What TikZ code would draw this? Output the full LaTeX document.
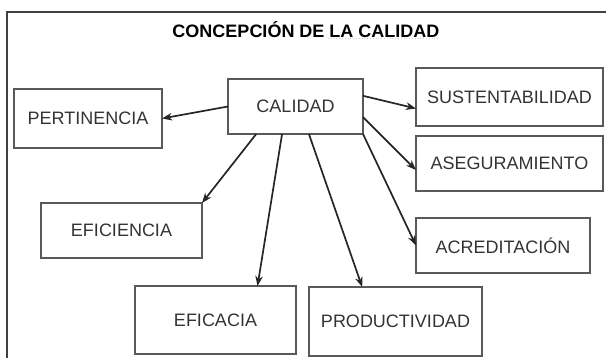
\documentclass[tikz,border=0pt]{standalone}
\usepackage{fontspec}
\setmainfont{Liberation Sans}
\usetikzlibrary{arrows.meta}
\begin{document}
\begin{tikzpicture}[x=1pt,y=-1pt,>={Stealth[length=10pt,width=7.5pt,inset=3pt]},
    concepto/.style={draw=black!65,line width=1.4pt,inner sep=0pt,outer sep=0pt,
      text=black!80,font=\fontsize{18}{20}\selectfont},
    enlace/.style={->,line width=1.7pt,black!85}]
  \useasboundingbox (0,0) rectangle (606,358);
  % marco
  \draw[line width=1.6pt,black!75] (7,358) -- (7,12) -- (606,12);
  % titulo
  \node[font=\fontsize{18}{20}\selectfont\bfseries] (titulo) at (306,30) {CONCEPCIÓN DE LA CALIDAD};
  \draw[black!20,dotted,line width=0.8pt] (328,38.5) -- (439,38.5);
  % conceptos
  \node[concepto,minimum width=135,minimum height=55] (cal) at (295.5,106.5) {CALIDAD};
  \node[concepto,minimum width=148,minimum height=59] (pert) at (88,118.5) {PERTINENCIA};
  \node[concepto,minimum width=187,minimum height=58] (sust) at (509.5,97) {SUSTENTABILIDAD};
  \node[concepto,minimum width=187,minimum height=55] (aseg) at (509.5,163.5) {ASEGURAMIENTO};
  \node[concepto,minimum width=161,minimum height=55] (efin) at (121.5,230.5) {EFICIENCIA};
  \node[concepto,minimum width=174,minimum height=55] (acre) at (503,245.5) {ACREDITACIÓN};
  \node[concepto,minimum width=161,minimum height=68] (efic) at (215.5,320) {EFICACIA};
  \node[concepto,minimum width=173,minimum height=69] (prod) at (395.5,321.5) {PRODUCTIVIDAD};
  % enlaces
  \draw[enlace] (cal.west) -- (pert.east);
  \draw[enlace] (cal.9) -- (sust.187);
  \draw[enlace] (cal.351) -- (aseg.184);
  \draw[enlace] (cal.215) -- (efin.north east);
  \draw[enlace] (cal.244) -- (efic.39);
  \draw[enlace] (cal.296) -- (prod.134);
  \draw[enlace] (cal.south east) -- (acre.west);
\end{tikzpicture}
\end{document}
